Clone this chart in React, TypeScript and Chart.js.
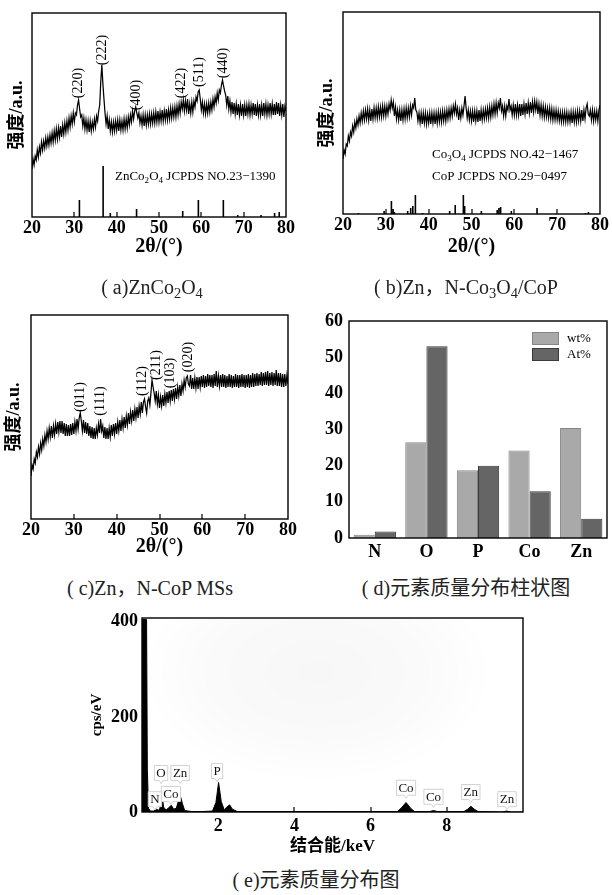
import React, { useEffect, useRef } from "react";
import { Chart, registerables } from "chart.js";

Chart.register(...registerables);

const SERIF = '"Liberation Serif", "Noto Sans CJK SC", serif';

// ---------- XRD data (2θ grid: 20° → 80°, step 0.25°; 4 values per degree per row) ----------
const XRD_START = 20;
const XRD_STEP = 0.25;
const XRD_TICKS = [20, 30, 40, 50, 60, 70, 80];
const INNER_TICKS = [30, 40, 50, 60, 70];

// (a) ZnCo2O4
const XRD_A = [
  48, 58, 52, 61, 57, 67, 60, 70, 64, 75, 67, 76, 69, 79, 71, 80,
  72, 82, 74, 84, 75, 86, 77, 88, 78, 89, 80, 91, 80, 92, 83, 94,
  85, 96, 87, 99, 90, 101, 93, 104, 95, 104, 102, 112, 117, 108, 100, 102,
  91, 99, 88, 97, 87, 96, 85, 96, 86, 95, 88, 98, 90, 101, 96, 106,
  112, 136, 152, 133, 118, 104, 93, 101, 88, 97, 86, 95, 85, 95, 86, 96,
  87, 97, 86, 97, 87, 96, 87, 98, 88, 98, 89, 100, 92, 102, 95, 106,
  98, 106, 110, 104, 99, 104, 94, 101, 92, 102, 91, 102, 92, 102, 93, 103,
  93, 103, 94, 104, 94, 105, 95, 106, 95, 105, 96, 107, 96, 106, 97, 108,
  97, 107, 98, 109, 99, 109, 100, 110, 100, 111, 102, 113, 104, 115, 108, 117,
  106, 116, 107, 118, 103, 113, 104, 115, 105, 116, 110, 120, 116, 125, 127, 118,
  107, 115, 104, 113, 103, 113, 104, 114, 105, 115, 107, 118, 110, 120, 114, 124,
  117, 127, 124, 132, 137, 131, 126, 122, 112, 121, 108, 116, 105, 115, 103, 114,
  103, 113, 102, 113, 102, 112, 101, 113, 102, 112, 101, 112, 103, 113, 102, 112,
  103, 114, 102, 113, 101, 112, 102, 113, 102, 112, 101, 114, 103, 113, 102, 112,
  103, 114, 103, 113, 102, 113, 102, 115, 103, 114, 101, 112, 102, 113, 100, 111,
  106,
];
const REF_A_POS = [31.2, 36.8, 38.5, 44.7, 55.6, 59.3, 65.2, 68.6, 74.1, 77.3, 78.4];
const REF_A_H = [17, 51, 4, 8, 6, 17, 17, 2, 2, 4, 5];
const PEAK_A_TEXT = ["(220)", "(222)", "(400)", "(422)", "(511)", "(440)"];
const PEAK_A_POS = [30.9, 36.5, 44.6, 55.3, 59.5, 65.1];
const PEAK_A_Y = [134, 167, 122, 134, 145, 154];

// (b) Zn,N-Co3O4/CoP
const XRD_B = [
  55, 64, 60, 70, 68, 78, 73, 82, 78, 88, 82, 92, 86, 95, 89, 98,
  91, 101, 93, 103, 94, 104, 95, 105, 94, 104, 93, 105, 95, 106, 96, 106,
  96, 107, 97, 107, 97, 108, 98, 108, 98, 108, 100, 110, 104, 114, 106, 112,
  98, 107, 95, 104, 94, 104, 93, 104, 94, 105, 95, 106, 96, 106, 97, 108,
  99, 109, 106, 116, 104, 102, 93, 101, 91, 101, 90, 101, 91, 101, 90, 100,
  91, 101, 90, 101, 91, 101, 90, 101, 91, 102, 92, 102, 92, 103, 93, 103,
  93, 104, 95, 105, 96, 106, 98, 108, 101, 110, 100, 106, 94, 104, 96, 106,
  99, 108, 118, 106, 96, 104, 94, 103, 93, 103, 92, 103, 93, 103, 92, 104,
  93, 104, 94, 104, 95, 105, 96, 106, 96, 107, 97, 108, 99, 110, 100, 111,
  101, 111, 106, 116, 103, 108, 98, 108, 98, 108, 104, 115, 104, 108, 99, 109,
  99, 110, 99, 109, 99, 110, 98, 110, 99, 110, 100, 111, 100, 111, 101, 112,
  101, 112, 102, 113, 104, 112, 100, 110, 99, 109, 98, 108, 97, 107, 97, 106,
  96, 106, 95, 105, 94, 104, 94, 104, 94, 103, 93, 102, 92, 102, 92, 102,
  92, 102, 92, 101, 92, 102, 91, 102, 92, 102, 92, 103, 93, 103, 93, 104,
  93, 104, 95, 106, 110, 100, 98, 104, 94, 104, 93, 103, 94, 103, 93, 104,
  109,
];
const REF_B_POS = [23.6, 29.6, 31.3, 31.7, 32.0, 35.1, 35.8, 36.3, 36.9, 38.6, 44.9, 46.2, 48.1, 48.4, 52.3, 56.0, 56.4, 56.8, 59.3, 65.3, 76.6, 77.3];
const REF_B_H = [1, 3, 13, 5, 2, 3, 6, 8, 19, 1, 3, 9, 19, 8, 3, 4, 6, 7, 3, 6, 1, 2];

// (c) Zn,N-CoP MSs
const XRD_C = [
  43, 54, 50, 60, 56, 67, 62, 72, 65, 76, 69, 80, 73, 84, 77, 88,
  80, 91, 82, 93, 81, 93, 84, 95, 85, 97, 87, 98, 86, 98, 85, 96,
  83, 95, 83, 94, 83, 95, 84, 96, 85, 97, 88, 100, 90, 101, 106, 98,
  88, 99, 86, 97, 85, 96, 83, 93, 81, 92, 80, 91, 80, 91, 84, 95,
  86, 100, 88, 93, 81, 92, 80, 91, 80, 91, 82, 94, 83, 95, 85, 96,
  85, 97, 88, 99, 88, 100, 91, 102, 91, 103, 94, 106, 95, 107, 98, 109,
  98, 110, 101, 112, 101, 113, 105, 117, 106, 117, 120, 112, 106, 118, 121, 114,
  126, 139, 132, 126, 118, 128, 115, 124, 111, 122, 113, 124, 113, 125, 116, 127,
  116, 128, 118, 129, 118, 130, 120, 131, 120, 132, 123, 134, 123, 135, 128, 139,
  132, 141, 143, 135, 133, 144, 130, 141, 130, 141, 131, 142, 130, 142, 132, 143,
  132, 144, 131, 143, 132, 145, 133, 144, 132, 144, 131, 145, 133, 148, 132, 143,
  133, 144, 132, 145, 132, 144, 131, 143, 132, 145, 132, 144, 131, 143, 132, 145,
  132, 144, 131, 144, 132, 145, 132, 144, 131, 144, 132, 145, 131, 144, 132, 146,
  132, 145, 133, 146, 133, 145, 134, 147, 133, 146, 134, 147, 134, 148, 133, 146,
  134, 147, 133, 146, 134, 149, 133, 146, 133, 146, 132, 145, 132, 145, 133, 144,
  135,
];
const PEAK_C_TEXT = ["(011)", "(111)", "(112)", "(211)", "(103)", "(020)"];
const PEAK_C_POS = [31.4, 36.1, 45.9, 49.2, 52.5, 56.7];
const PEAK_C_Y = [122, 118, 138, 154, 146, 162];

// ---------- (d) element bars ----------
const ELEMENTS = ["N", "O", "P", "Co", "Zn"];
const WT_PCT = [0.9, 26.5, 18.7, 24.2, 30.4];
const AT_PCT = [1.8, 53.0, 20.0, 12.9, 5.3];
const BAR_TICKS_MAX = 60;

// ---------- (e) EDS spectrum ----------
const EDS_KEV = [
  0, 0.01, 0.02, 0.12, 0.14, 0.17, 0.22, 0.3, 0.35, 0.39,
  0.43, 0.47, 0.52, 0.57, 0.63, 0.7, 0.77, 0.83, 0.9, 0.96,
  1.01, 1.06, 1.12, 1.3, 1.6, 1.85, 1.94, 2.01, 2.08, 2.16,
  2.22, 2.3, 2.37, 2.5, 3.0, 4.0, 5.0, 6.0, 6.7, 6.8,
  6.93, 7.05, 7.15, 7.55, 7.65, 7.75, 8.45, 8.55, 8.63, 8.72,
  8.82, 9.45, 9.57, 9.68, 10,
];
const EDS_CPS = [
  0, 120, 405, 405, 90, 8, 2, 2, 4, 6,
  3, 8, 36, 10, 4, 9, 14, 6, 8, 24,
  33, 18, 3, 1, 1, 2, 20, 62, 22, 4,
  10, 15, 6, 1, 1, 1, 1, 1, 1, 8,
  20, 8, 1, 1, 3, 1, 1, 6, 12, 6,
  1, 0, 2, 0, 0,
];
const EDS_X_TICKS = [2, 4, 6, 8];
const EDS_Y_TICKS = [0, 200, 400];
const EDS_LABEL_TEXT = ["N", "O", "Co", "Zn", "P", "Co", "Co", "Zn", "Zn"];
const EDS_LABEL_KEV = [0.34, 0.5, 0.76, 1.0, 1.97, 6.93, 7.65, 8.63, 9.58];
const EDS_LABEL_CPS = [27, 82, 38, 82, 86, 51, 32, 42, 27];

// ---------- helpers ----------
type Seg = { t: string; sub?: boolean };

const xrdPoints = (vals: number[]) => vals.map((y, i) => ({ x: XRD_START + i * XRD_STEP, y }));
const refPoints = (pos: number[], h: number[]) =>
  pos.flatMap((p, i) => [
    { x: p, y: 0 },
    { x: p, y: h[i] },
    { x: p, y: null as any },
  ]);

function framePlugin(xTicks: number[], yTicks: number[], len = 5) {
  return {
    id: "frame",
    afterDatasetsDraw(chart: any) {
      const { ctx, chartArea: a } = chart;
      const xs = chart.scales.x;
      const ys = chart.scales.y;
      ctx.save();
      ctx.strokeStyle = "#000";
      ctx.lineWidth = 1.4;
      const l = Math.round(a.left);
      const t = Math.round(a.top);
      const r = Math.round(a.right);
      const b = Math.round(a.bottom);
      ctx.strokeRect(l, t, r - l, b - t);
      ctx.beginPath();
      ctx.lineWidth = 1.2;
      xTicks.forEach((v) => {
        const x = Math.round(xs.getPixelForValue(v));
        ctx.moveTo(x, b);
        ctx.lineTo(x, b - len);
      });
      yTicks.forEach((v) => {
        const y = Math.round(ys.getPixelForValue(v));
        ctx.moveTo(l, y);
        ctx.lineTo(l + len, y);
      });
      ctx.stroke();
      ctx.restore();
    },
  };
}

function peakLabelPlugin(texts: string[], pos: number[], ys: number[]) {
  return {
    id: "peaks",
    afterDatasetsDraw(chart: any) {
      const { ctx } = chart;
      ctx.save();
      ctx.font = `14px ${SERIF}`;
      ctx.fillStyle = "#000";
      ctx.textAlign = "center";
      ctx.textBaseline = "middle";
      texts.forEach((t, i) => {
        const x = chart.scales.x.getPixelForValue(pos[i]);
        const y = chart.scales.y.getPixelForValue(ys[i]);
        ctx.save();
        ctx.translate(x, y);
        ctx.rotate(-Math.PI / 2);
        ctx.fillText(t, 0, 0);
        ctx.restore();
      });
      ctx.restore();
    },
  };
}

function richTextPlugin(lines: { segs: Seg[]; x: number; y: number }[], size = 13) {
  return {
    id: "richText",
    afterDatasetsDraw(chart: any) {
      const { ctx } = chart;
      ctx.save();
      ctx.fillStyle = "#000";
      ctx.textAlign = "left";
      ctx.textBaseline = "middle";
      lines.forEach((ln) => {
        let cx = chart.scales.x.getPixelForValue(ln.x);
        const cy = chart.scales.y.getPixelForValue(ln.y);
        ln.segs.forEach((s) => {
          const fs = s.sub ? size * 0.7 : size;
          ctx.font = `${fs}px ${SERIF}`;
          ctx.fillText(s.t, cx, s.sub ? cy + size * 0.3 : cy);
          cx += ctx.measureText(s.t).width;
        });
      });
      ctx.restore();
    },
  };
}

function barLegendPlugin() {
  return {
    id: "barLegend",
    afterDatasetsDraw(chart: any) {
      const { ctx, chartArea: a } = chart;
      ctx.save();
      chart.data.datasets.forEach((ds: any, i: number) => {
        const x = a.right - 75;
        const y = a.top + 11 + i * 16;
        ctx.fillStyle = ds.backgroundColor;
        ctx.fillRect(x, y, 27, 13);
        ctx.strokeStyle = ds.borderColor;
        ctx.lineWidth = 1;
        ctx.strokeRect(x + 0.5, y + 0.5, 26, 12);
        ctx.fillStyle = "#000";
        ctx.font = `13px ${SERIF}`;
        ctx.textAlign = "left";
        ctx.textBaseline = "middle";
        ctx.fillText(ds.label, x + 35, y + 7);
      });
      ctx.restore();
    },
  };
}

function edsLabelPlugin(texts: string[], kev: number[], cps: number[]) {
  return {
    id: "edsLabels",
    afterDatasetsDraw(chart: any) {
      const { ctx } = chart;
      ctx.save();
      ctx.font = `13px ${SERIF}`;
      ctx.textAlign = "center";
      ctx.textBaseline = "middle";
      texts.forEach((t, i) => {
        const x = chart.scales.x.getPixelForValue(kev[i]);
        const y = chart.scales.y.getPixelForValue(cps[i]);
        const w = ctx.measureText(t).width + 4;
        const h = 15;
        ctx.beginPath();
        ctx.moveTo(x - w / 2, y - h / 2);
        ctx.lineTo(x + w / 2, y - h / 2);
        ctx.lineTo(x + w / 2, y + h / 2);
        ctx.lineTo(x + 2, y + h / 2);
        ctx.lineTo(x, y + h / 2 + 3);
        ctx.lineTo(x - 2, y + h / 2);
        ctx.lineTo(x - w / 2, y + h / 2);
        ctx.closePath();
        ctx.fillStyle = "#fff";
        ctx.fill();
        ctx.strokeStyle = "#d2d2d2";
        ctx.lineWidth = 1;
        ctx.stroke();
        ctx.fillStyle = "#111";
        ctx.fillText(t, x, y + 0.5);
      });
      ctx.restore();
    },
  };
}

function hazePlugin() {
  return {
    id: "haze",
    beforeDatasetsDraw(chart: any) {
      const { ctx, chartArea: a } = chart;
      const cx = a.left + (a.right - a.left) * 0.46;
      const cy = a.top + (a.bottom - a.top) * 0.28;
      ctx.save();
      ctx.beginPath();
      ctx.rect(a.left, a.top, a.right - a.left, a.bottom - a.top);
      ctx.clip();
      ctx.translate(cx, cy);
      ctx.scale(1.6, 1);
      const g = ctx.createRadialGradient(0, 0, 0, 0, 0, 110);
      g.addColorStop(0, "rgba(0,0,0,0.03)");
      g.addColorStop(0.6, "rgba(0,0,0,0.018)");
      g.addColorStop(1, "rgba(0,0,0,0)");
      ctx.fillStyle = g;
      ctx.fillRect(-200, -200, 400, 400);
      ctx.restore();
    },
  };
}

const boldFont = (size: number) => ({ family: SERIF, size, weight: "bold" as const });
const noGrid = { display: false, drawTicks: false, tickLength: 0 };

function xrdConfig(o: {
  series: number[];
  refPos?: number[];
  refH?: number[];
  ymax: number;
  yWidth: number;
  xHeight: number;
  padTop: number;
  padRight: number;
  yTitlePad: number;
  plugins: any[];
}) {
  const datasets: any[] = [
    {
      data: xrdPoints(o.series),
      borderColor: "#000",
      borderWidth: 1.25,
      pointRadius: 0,
      tension: 0,
    },
  ];
  if (o.refPos && o.refH) {
    datasets.push({
      data: refPoints(o.refPos, o.refH),
      borderColor: "#000",
      borderWidth: 1.6,
      pointRadius: 0,
      spanGaps: false,
    });
  }
  return {
    type: "line",
    data: { datasets },
    options: {
      responsive: false,
      animation: false,
      layout: { padding: { top: o.padTop, right: o.padRight, left: 0, bottom: 0 } },
      plugins: { legend: { display: false }, tooltip: { enabled: false } },
      scales: {
        x: {
          type: "linear",
          min: 20,
          max: 80,
          afterBuildTicks: (s: any) => {
            s.ticks = XRD_TICKS.map((v) => ({ value: v }));
          },
          ticks: { font: boldFont(18), color: "#000", padding: 1, maxRotation: 0 },
          grid: noGrid,
          border: { display: false },
          title: {
            display: true,
            text: "2θ/(°)",
            color: "#000",
            font: boldFont(20),
            padding: { top: 0, bottom: 3 },
          },
          afterFit: (s: any) => {
            s.height = o.xHeight;
          },
        },
        y: {
          min: 0,
          max: o.ymax,
          ticks: { display: false },
          grid: noGrid,
          border: { display: false },
          title: {
            display: true,
            text: "强度/a.u.",
            color: "#000",
            font: boldFont(18),
            padding: { top: o.yTitlePad, bottom: 0 },
          },
          afterFit: (s: any) => {
            s.width = o.yWidth;
          },
        },
      },
    },
    plugins: [framePlugin(INNER_TICKS, []), ...o.plugins],
  };
}

function ChartBox(props: { left: number; top: number; width: number; height: number; build: () => any }) {
  const ref = useRef<HTMLCanvasElement>(null);
  useEffect(() => {
    const chart = new Chart(ref.current as HTMLCanvasElement, props.build());
    return () => chart.destroy();
  }, []);
  return (
    <canvas
      ref={ref}
      width={props.width}
      height={props.height}
      style={{ position: "absolute", left: props.left, top: props.top, width: props.width, height: props.height }}
    />
  );
}

const subStyle: React.CSSProperties = { fontSize: "0.72em", verticalAlign: "-0.25em", lineHeight: 0 };

function Caption(props: { x: number; y: number; children: React.ReactNode }) {
  return (
    <div
      style={{
        position: "absolute",
        left: props.x,
        top: props.y,
        transform: "translate(-50%, -50%)",
        whiteSpace: "nowrap",
        fontFamily: SERIF,
        fontSize: 20,
        color: "#222",
        lineHeight: 1,
      }}
    >
      {props.children}
    </div>
  );
}

export default function App() {
  const buildA = () =>
    xrdConfig({
      series: XRD_A,
      refPos: REF_A_POS,
      refH: REF_A_H,
      ymax: 204,
      yWidth: 32,
      xHeight: 45,
      padTop: 13,
      padRight: 14,
      yTitlePad: 7,
      plugins: [
        peakLabelPlugin(PEAK_A_TEXT, PEAK_A_POS, PEAK_A_Y),
        richTextPlugin([
          {
            segs: [{ t: "ZnCo" }, { t: "2", sub: true }, { t: "O" }, { t: "4", sub: true }, { t: " JCPDS NO.23−1390" }],
            x: 39.6,
            y: 40,
          },
        ]),
      ],
    });

  const buildB = () =>
    xrdConfig({
      series: XRD_B,
      refPos: REF_B_POS,
      refH: REF_B_H,
      ymax: 202,
      yWidth: 43,
      xHeight: 48,
      padTop: 12,
      padRight: 12,
      yTitlePad: 17,
      plugins: [
        richTextPlugin([
          {
            segs: [{ t: "Co" }, { t: "3", sub: true }, { t: "O" }, { t: "4", sub: true }, { t: " JCPDS NO.42−1467" }],
            x: 40.8,
            y: 59,
          },
          { segs: [{ t: "CoP JCPDS NO.29−0497" }], x: 40.8, y: 37 },
        ]),
      ],
    });

  const buildC = () =>
    xrdConfig({
      series: XRD_C,
      ymax: 204,
      yWidth: 31,
      xHeight: 43,
      padTop: 15,
      padRight: 12,
      yTitlePad: 4,
      plugins: [peakLabelPlugin(PEAK_C_TEXT, PEAK_C_POS, PEAK_C_Y)],
    });

  const buildD = () => ({
    type: "bar",
    data: {
      labels: ELEMENTS,
      datasets: [
        {
          label: "wt%",
          data: WT_PCT,
          backgroundColor: "#a9a9a9",
          borderColor: "#858585",
          borderWidth: 1,
          categoryPercentage: 0.82,
          barPercentage: 1,
        },
        {
          label: "At%",
          data: AT_PCT,
          backgroundColor: "#656565",
          borderColor: "#3a3a3a",
          borderWidth: 1,
          categoryPercentage: 0.82,
          barPercentage: 1,
        },
      ],
    },
    options: {
      responsive: false,
      animation: false,
      layout: { padding: { top: 21, right: 5, left: 0, bottom: 0 } },
      plugins: { legend: { display: false }, tooltip: { enabled: false } },
      scales: {
        x: {
          ticks: { font: boldFont(18), color: "#000", padding: 4 },
          grid: noGrid,
          border: { display: false },
          afterFit: (s: any) => {
            s.height = 34;
          },
        },
        y: {
          min: 0,
          max: BAR_TICKS_MAX,
          ticks: { stepSize: 10, font: boldFont(18), color: "#000", padding: 6 },
          grid: noGrid,
          border: { display: false },
          afterFit: (s: any) => {
            s.width = 49;
          },
        },
      },
    },
    plugins: [framePlugin([], []), barLegendPlugin()],
  });

  const buildE = () => ({
    type: "line",
    data: {
      datasets: [
        {
          data: EDS_KEV.map((x, i) => ({ x, y: EDS_CPS[i] })),
          borderColor: "#000",
          backgroundColor: "#000",
          borderWidth: 1,
          pointRadius: 0,
          fill: "origin",
          tension: 0,
        },
      ],
    },
    options: {
      responsive: false,
      animation: false,
      layout: { padding: { top: 18, right: 7, left: 0, bottom: 0 } },
      plugins: { legend: { display: false }, tooltip: { enabled: false } },
      scales: {
        x: {
          type: "linear",
          min: 0,
          max: 10,
          afterBuildTicks: (s: any) => {
            s.ticks = EDS_X_TICKS.map((v) => ({ value: v }));
          },
          ticks: { font: boldFont(18), color: "#000", padding: 4, maxRotation: 0 },
          grid: noGrid,
          border: { display: false },
          title: {
            display: true,
            text: "结合能/keV",
            color: "#000",
            font: boldFont(17),
            padding: { top: 0, bottom: 1 },
          },
          afterFit: (s: any) => {
            s.height = 46;
          },
        },
        y: {
          min: 0,
          max: 408,
          afterBuildTicks: (s: any) => {
            s.ticks = EDS_Y_TICKS.map((v) => ({ value: v }));
          },
          ticks: { font: boldFont(18), color: "#000", padding: 4 },
          grid: noGrid,
          border: { display: false },
          title: {
            display: true,
            text: "cps/eV",
            color: "#000",
            font: boldFont(15),
            padding: { top: 8, bottom: 0 },
          },
          afterFit: (s: any) => {
            s.width = 62;
          },
        },
      },
    },
    plugins: [
      hazePlugin(),
      framePlugin(EDS_X_TICKS, [200, 400]),
      edsLabelPlugin(EDS_LABEL_TEXT, EDS_LABEL_KEV, EDS_LABEL_CPS),
    ],
  });

  return (
    <div style={{ position: "absolute", left: 0, top: 0, width: 612, height: 895, background: "#fff", overflow: "hidden" }}>
      <ChartBox left={0} top={0} width={300} height={262} build={buildA} />
      <ChartBox left={300} top={0} width={312} height={262} build={buildB} />
      <ChartBox left={0} top={300} width={300} height={262} build={buildC} />
      <ChartBox left={300} top={300} width={312} height={272} build={buildD} />
      <ChartBox left={80} top={600} width={450} height={258} build={buildE} />

      <Caption x={152} y={287}>
        ( a)ZnCo<sub style={subStyle}>2</sub>O<sub style={subStyle}>4</sub>
      </Caption>
      <Caption x={466} y={287}>
        ( b)Zn，N-Co<sub style={subStyle}>3</sub>O<sub style={subStyle}>4</sub>/CoP
      </Caption>
      <Caption x={150} y={588}>
        ( c)Zn，N-CoP MSs
      </Caption>
      <Caption x={466} y={588}>
        ( d)元素质量分布柱状图
      </Caption>
      <Caption x={316} y={880}>
        ( e)元素质量分布图
      </Caption>
    </div>
  );
}
